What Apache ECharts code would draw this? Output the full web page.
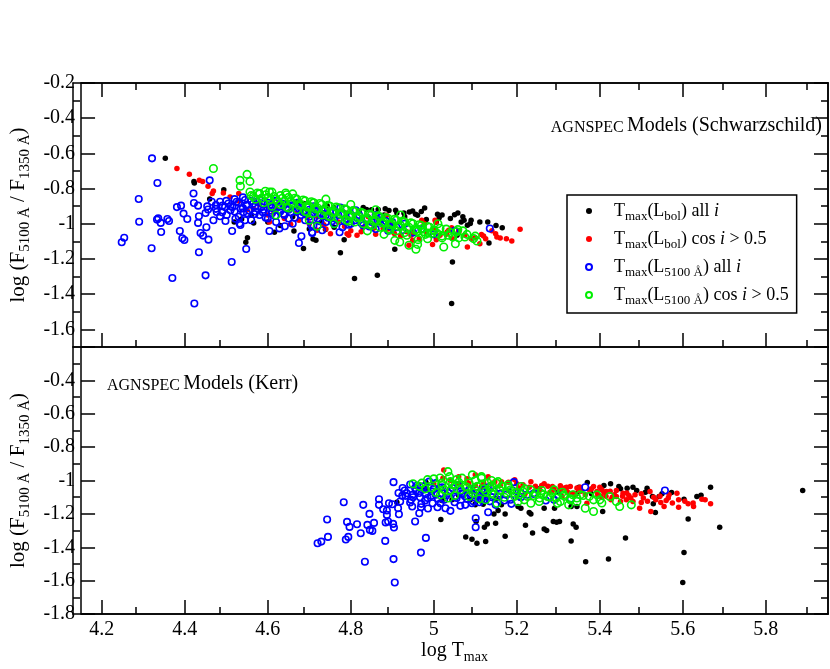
<!DOCTYPE html>
<html>
<head>
<meta charset="utf-8">
<script src="https://cdn.jsdelivr.net/npm/echarts@6/dist/echarts.min.js"></script>
<style>
  html, body { margin: 0; padding: 0; background: #fff; }
  #chart { width: 830px; height: 669px; }
</style>
</head>
<body>
<div id="chart"></div>
<script>
// tick positions (x is shared by both panels)
var xMajor = [4.2, 4.4, 4.6, 4.8, 5.0, 5.2, 5.4, 5.6, 5.8];
var xMinor = [4.3, 4.5, 4.7, 4.9, 5.1, 5.3, 5.5, 5.7, 5.9];
var yTopMajor = [-1.6, -1.4, -1.2, -1.0, -0.8, -0.6, -0.4, -0.2];
var yTopMinor = [-1.7, -1.5, -1.3, -1.1, -0.9, -0.7, -0.5, -0.3];
var yBotMajor = [-1.8, -1.6, -1.4, -1.2, -1.0, -0.8, -0.6, -0.4, -0.2];
var yBotLabels = [-1.8, -1.6, -1.4, -1.2, -1.0, -0.8, -0.6, -0.4];
var yBotMinor = [-1.7, -1.5, -1.3, -1.1, -0.9, -0.7, -0.5, -0.3];

var names = ['Tmax(Lbol) all i', 'Tmax(Lbol) cos i > 0.5', 'Tmax(L5100) all i', 'Tmax(L5100) cos i > 0.5'];

// ---- Schwarzschild panel ----
var topBlack = [
  [4.353,-0.628],[4.422,-0.759],[4.423,-0.768],[4.460,-0.859],[4.494,-0.806],[4.519,-0.990],[4.537,-0.973],
  [4.551,-1.079],[4.547,-1.105],[4.566,-0.995],[4.616,-1.048],[4.663,-1.041],[4.686,-1.141],[4.709,-1.086],
  [4.716,-1.094],[4.739,-1.033],[4.739,-0.895],[4.671,-0.876],[4.687,-0.885],[4.743,-0.897],[4.759,-0.908],
  [4.775,-1.164],[4.809,-1.311],[4.864,-1.293],[4.784,-1.090],[4.830,-0.908],[4.838,-0.919],[4.866,-0.919],
  [4.883,-0.914],[4.892,-0.925],[4.908,-0.923],[4.911,-0.939],[4.928,-0.939],[4.941,-0.933],[4.949,-0.927],
  [4.956,-0.946],[4.961,-0.952],[4.978,-0.910],[4.982,-0.976],[5.009,-0.946],[5.013,-0.965],[5.006,-0.990],
  [5.050,-0.948],[5.058,-0.939],[5.066,-0.990],[5.073,-0.980],[5.081,-1.008],[5.088,-0.999],[5.111,-0.990],
  [5.165,-1.022],[5.133,-1.109],[5.056,-1.065],[4.906,-1.145],[5.045,-1.217],[5.043,-1.453],
  [4.56,-0.95],[4.60,-0.99],[4.63,-1.01],[4.66,-0.96],[4.70,-1.03],[4.73,-0.99],[4.76,-1.02],[4.79,-0.94],
  [4.82,-0.93],[4.85,-0.92],[4.88,-0.95],[4.93,-0.96],[4.97,-0.93],[5.02,-0.95],[5.04,-0.97],[5.07,-0.96],
  [5.09,-0.98],[5.13,-0.99],[5.15,-1.01]
];
var topRed = [
  [4.381,-0.686],[4.411,-0.719],[4.435,-0.753],[4.443,-0.759],[4.456,-0.787],[4.469,-0.813],[4.466,-0.828],
  [4.493,-0.825],[4.509,-0.848],[4.530,-0.828],[4.604,-0.990],[4.655,-1.003],[4.675,-0.980],[4.719,-1.037],
  [4.751,-1.056],[4.791,-1.056],[4.795,-1.065],[4.815,-1.065],[4.842,-0.960],[4.886,-0.952],[4.898,-0.999],
  [4.878,-1.027],[4.945,-1.065],[4.949,-1.094],[4.940,-1.122],[4.971,-0.980],[4.977,-0.999],[4.982,-1.047],
  [4.997,-1.117],[5.003,-0.980],[5.005,-0.990],[5.006,-1.090],[5.032,-1.047],[5.036,-1.037],[5.081,-1.132],
  [5.090,-1.085],[5.100,-1.079],[5.111,-1.113],[5.149,-1.056],[5.152,-1.075],[5.175,-1.085],[5.188,-1.098],
  [5.208,-1.031],[5.043,-1.022],[5.061,-1.043],[5.115,-1.061],
  [4.53,-0.87],[4.55,-0.92],[4.58,-0.89],[4.60,-0.95],[4.62,-0.91],[4.64,-0.97],[4.67,-0.94],[4.70,-1.00],
  [4.72,-0.96],[4.74,-1.03],[4.77,-0.99],[4.80,-1.04],[4.83,-1.02],[4.86,-1.06],[4.89,-1.03],[4.92,-1.07],
  [4.95,-1.05],[5.00,-1.03],[5.03,-1.06],[5.06,-1.04],[5.12,-1.07],[5.14,-1.04],[5.16,-1.08],
  [4.565,-0.915],[4.615,-0.935],[4.695,-0.965],[4.735,-1.005],[4.785,-1.015],[4.825,-1.045],[4.855,-1.025],
  [4.905,-1.055],[4.935,-1.045],[4.965,-1.085],[5.015,-1.065],[5.045,-1.085],[5.075,-1.065],[5.125,-1.085]
];
var topBlue = [
  [4.321,-0.628],[4.334,-0.768],[4.289,-0.859],[4.290,-0.988],[4.248,-1.105],[4.254,-1.079],[4.320,-1.139],
  [4.370,-1.308],[4.423,-1.453],[4.450,-1.293],[4.513,-1.217],[4.434,-1.162],[4.333,-0.976],[4.336,-0.969],
  [4.342,-0.995],[4.358,-0.973],[4.362,-0.984],[4.343,-1.047],[4.388,-1.041],[4.394,-1.082],[4.399,-1.092],
  [4.381,-0.905],[4.391,-0.897],[4.397,-0.942],[4.406,-0.973],[4.421,-0.828],[4.422,-0.882],[4.432,-0.897],
  [4.434,-0.957],[4.432,-0.995],[4.438,-1.052],[4.444,-1.067],[4.452,-1.020],[4.457,-1.090],[4.460,-0.753],
  [4.450,-0.939],[4.454,-0.901],[4.456,-0.919],[4.477,-0.933],[4.469,-0.980],[4.475,-0.893],[4.485,-0.957],
  [4.498,-0.984],[4.501,-0.950],[4.491,-0.897],[4.497,-0.905],[4.510,-0.923],[4.514,-1.041],[4.522,-0.971],
  [4.532,-0.999],[4.534,-1.007],[4.541,-0.935],[4.548,-1.143],[4.545,-0.980],[4.604,-1.041],[4.628,-1.026],
  [4.641,-1.014],[4.675,-1.109],[4.681,-1.071],[4.707,-1.052],[4.731,-1.037],[4.775,-0.908],[4.812,-0.923],
  [4.707,-1.048],[4.705,-1.010],[4.773,-1.048],[5.135,-1.027],[4.860,-0.950],[4.872,-0.965],[4.885,-0.985],
  [4.50,-0.87],[4.51,-0.90],[4.52,-0.86],[4.52,-0.93],[4.53,-0.88],[4.53,-0.96],[4.54,-0.85],[4.54,-0.91],
  [4.55,-0.89],[4.55,-0.94],[4.56,-0.87],[4.56,-0.98],[4.57,-0.90],[4.57,-0.93],[4.58,-0.86],[4.58,-0.95],
  [4.59,-0.89],[4.59,-0.92],[4.60,-0.88],[4.60,-0.97],[4.61,-0.91],[4.61,-0.94],[4.62,-0.87],[4.62,-0.99],
  [4.63,-0.90],[4.63,-0.93],[4.64,-0.95],[4.64,-0.89],[4.65,-0.92],[4.65,-0.97],[4.66,-0.90],[4.66,-1.00],
  [4.67,-0.93],[4.67,-0.88],[4.68,-0.95],[4.68,-0.91],[4.69,-0.94],[4.69,-0.98],[4.70,-0.92],[4.70,-0.96],
  [4.71,-0.90],[4.71,-1.01],[4.72,-0.94],[4.72,-0.97],[4.73,-0.92],[4.74,-0.99],[4.74,-0.95],[4.75,-0.93],
  [4.76,-0.97],[4.76,-1.00],[4.77,-0.95],[4.78,-0.94],[4.78,-1.02],[4.79,-0.97],[4.80,-0.96],[4.80,-1.00],
  [4.81,-0.98],[4.82,-0.95],[4.83,-1.01],[4.84,-0.97],[4.85,-0.99],[4.86,-1.03],[4.87,-0.98],[4.88,-1.00],
  [4.89,-1.04],[4.90,-0.99],[4.91,-1.02],[4.93,-1.00],[4.95,-1.05],[4.97,-1.03],[5.00,-1.06],[5.05,-1.04],
  [4.505,-0.885],[4.515,-0.905],[4.525,-0.875],[4.535,-0.915],[4.545,-0.865],[4.548,-0.895],[4.555,-0.925],
  [4.565,-0.885],[4.568,-0.945],[4.575,-0.875],[4.585,-0.905],[4.588,-0.935],[4.595,-0.965],[4.605,-0.895],
  [4.608,-0.925],[4.615,-0.875],[4.618,-0.955],[4.625,-0.905],[4.635,-0.885],[4.638,-0.945],[4.645,-0.915],
  [4.655,-0.935],[4.658,-0.895],[4.665,-0.965],[4.675,-0.915],[4.685,-0.935],[4.695,-0.905],[4.705,-0.945],
  [4.715,-0.925],[4.725,-0.985],[4.735,-0.945],[4.745,-0.965],[4.755,-0.985],[4.765,-0.935],[4.785,-0.985],
  [4.795,-1.005],[4.815,-0.965],[4.825,-0.995],[4.845,-1.015],[4.865,-0.985],[4.895,-1.015],[4.925,-1.035],
  [4.465,-0.875],[4.475,-0.915],[4.485,-0.875],[4.490,-0.935]
];
var topGreen = [
  [4.469,-0.686],[4.550,-0.719],[4.533,-0.753],[4.557,-0.759],[4.534,-0.787],[4.557,-0.819],[4.580,-0.828],
  [4.594,-0.815],[4.604,-0.819],[4.643,-0.825],[4.711,-0.882],[4.719,-1.014],[4.961,-1.043],[4.973,-1.027],
  [4.986,-1.052],[5.001,-1.037],[5.009,-1.056],[5.020,-1.080],[5.024,-1.132],[5.052,-1.113],[5.046,-1.075],
  [5.058,-1.033],[5.096,-1.084],[5.104,-1.098],[4.961,-1.117],[4.957,-1.145],[4.962,-1.090],[4.940,-1.122],
  [4.918,-1.103],[4.906,-1.094],
  [4.56,-0.84],[4.57,-0.86],[4.58,-0.83],[4.59,-0.88],[4.60,-0.85],[4.61,-0.82],[4.61,-0.90],[4.62,-0.86],
  [4.63,-0.84],[4.63,-0.89],[4.64,-0.87],[4.65,-0.85],[4.65,-0.91],[4.66,-0.88],[4.67,-0.86],[4.67,-0.92],
  [4.68,-0.89],[4.69,-0.87],[4.69,-0.93],[4.70,-0.90],[4.71,-0.88],[4.71,-0.94],[4.72,-0.91],[4.73,-0.89],
  [4.73,-0.95],[4.74,-0.92],[4.75,-0.90],[4.75,-0.96],[4.76,-0.93],[4.77,-0.91],[4.77,-0.97],[4.78,-0.94],
  [4.79,-0.92],[4.79,-0.98],[4.80,-0.95],[4.81,-0.93],[4.81,-0.99],[4.82,-0.96],[4.83,-0.94],[4.83,-1.00],
  [4.84,-0.97],[4.85,-0.95],[4.85,-1.01],[4.86,-0.98],[4.87,-0.96],[4.87,-1.02],[4.88,-0.99],[4.89,-0.97],
  [4.89,-1.03],[4.90,-1.00],[4.91,-0.98],[4.91,-1.04],[4.92,-1.01],[4.93,-0.99],[4.93,-1.05],[4.94,-1.02],
  [4.95,-1.00],[4.96,-1.03],[4.97,-1.01],[4.98,-1.06],[4.99,-1.02],[5.00,-1.04],[5.01,-1.00],[5.02,-1.07],
  [5.03,-1.03],[5.04,-1.05],[5.06,-1.08],[5.07,-1.04],[5.08,-1.06],[5.10,-1.07],[4.62,-0.95],[4.70,-0.98],
  [4.76,-1.00],[4.84,-1.04],[4.88,-1.06],[4.66,-0.83],[4.74,-0.86],[4.80,-0.89],[4.86,-0.92],[4.92,-0.95],
  [4.565,-0.845],[4.575,-0.825],[4.585,-0.855],[4.595,-0.835],[4.605,-0.865],[4.615,-0.845],[4.625,-0.875],
  [4.635,-0.855],[4.645,-0.835],[4.655,-0.875],[4.665,-0.855],[4.675,-0.895],[4.685,-0.865],[4.695,-0.905],
  [4.705,-0.875],[4.715,-0.915],[4.725,-0.885],[4.735,-0.925],[4.745,-0.895],[4.755,-0.935],[4.765,-0.905],
  [4.775,-0.945],[4.785,-0.915],[4.795,-0.955],[4.805,-0.925],[4.815,-0.965],[4.825,-0.935],[4.835,-0.975],
  [4.845,-0.945],[4.855,-0.985],[4.865,-0.955],[4.875,-0.995],[4.885,-0.965],[4.895,-1.005],[4.905,-0.975],
  [4.915,-1.015],[4.925,-0.985],[4.935,-1.025],[4.945,-0.995],[4.955,-1.035],[4.965,-1.005],[4.975,-1.045],
  [4.985,-1.015],[4.995,-1.055],[5.015,-1.025],[5.035,-1.065],[5.055,-1.045],[5.075,-1.075],[4.645,-0.905],
  [4.695,-0.935],[4.745,-0.955],[4.795,-0.985],[4.845,-1.005],[4.895,-1.035],[4.935,-1.065],[4.985,-1.085]
];

// ---- Kerr panel ----
var botBlack = [
  [4.911,-1.130],[4.981,-1.010],[5.017,-1.234],[5.044,-1.116],[5.077,-1.338],[5.092,-1.352],[5.104,-1.376],
  [5.125,-1.366],[5.102,-1.246],[5.122,-1.280],[5.129,-1.260],[5.149,-1.256],[5.145,-1.200],[5.155,-1.180],
  [5.088,-1.116],[5.100,-1.146],[5.119,-1.142],[5.172,-1.334],[5.172,-1.200],[5.163,-1.146],[5.203,-1.156],
  [5.210,-1.166],[5.230,-1.192],[5.234,-1.200],[5.221,-1.268],[5.238,-1.314],[5.266,-1.290],[5.272,-1.300],
  [5.288,-1.246],[5.296,-1.250],[5.303,-1.246],[5.266,-1.166],[5.291,-1.166],[5.331,-1.362],[5.336,-1.260],
  [5.343,-1.280],[5.331,-1.156],[5.345,-1.156],[5.366,-1.487],[5.421,-1.471],[5.407,-1.186],[5.462,-1.344],
  [5.426,-1.020],[5.446,-1.036],[5.466,-1.046],[5.489,-1.060],[5.514,-1.046],[5.527,-1.096],[5.529,-1.140],
  [5.534,-1.192],[5.543,-1.096],[5.573,-1.072],[5.370,-1.012],[5.603,-1.112],[5.613,-1.230],[5.603,-1.432],
  [5.600,-1.611],[5.634,-1.096],[5.644,-1.088],[5.667,-1.040],[5.689,-1.280],[5.889,-1.060],[5.345,-1.076],
  [5.353,-1.056],
  [4.98,-1.05],[5.02,-1.12],[5.06,-1.09],[5.10,-1.14],[5.15,-1.11],[5.18,-1.06],[5.25,-1.05],[5.30,-1.07],
  [5.35,-1.04],[5.38,-1.08],[5.41,-1.03],[5.45,-1.05],[5.48,-1.04],[5.51,-1.07],[5.55,-1.08]
];
var botRed = [
  [5.586,-1.076],[5.590,-1.116],[5.590,-1.160],[5.613,-1.140],[5.626,-1.156],[5.646,-1.112],[5.654,-1.116],
  [5.667,-1.140],[5.560,-1.120],[5.567,-1.086],[5.547,-1.132],[5.555,-1.156],[5.523,-1.186],[5.496,-1.166],
  [5.500,-1.132],[5.480,-1.126],[5.456,-1.076],[5.464,-1.116],[5.440,-1.096],[5.416,-1.066],[5.393,-1.066],
  [5.385,-1.036],[5.353,-1.040],[5.329,-1.036],[5.305,-1.032],[5.286,-1.036],[5.266,-1.020],[5.234,-1.007],
  [5.195,-0.996],[5.163,-1.007],[5.369,-1.136],[5.403,-1.096],[5.427,-1.116],[5.450,-1.126],[5.309,-1.096],
  [5.321,-1.066],[5.337,-1.076],[5.521,-1.066],[5.024,-0.937],[5.022,-0.986],[5.060,-0.977],[5.100,-0.966],
  [5.131,-0.977],[5.147,-1.007],[5.084,-1.016],[5.115,-1.036],
  [5.00,-1.02],[5.04,-1.00],[5.08,-0.99],[5.12,-1.01],[5.16,-1.03],[5.20,-1.02],[5.23,-1.04],[5.26,-1.03],
  [5.29,-1.05],[5.32,-1.04],[5.35,-1.06],[5.38,-1.05],[5.41,-1.07],[5.44,-1.06],[5.47,-1.09],[5.50,-1.08],
  [5.53,-1.10],[5.22,-1.08],[5.28,-1.07],[5.34,-1.09],[5.40,-1.04],[5.43,-1.10],
  [5.205,-1.045],[5.215,-1.025],[5.245,-1.035],[5.255,-1.055],[5.275,-1.035],[5.285,-1.065],[5.305,-1.055],
  [5.315,-1.045],[5.325,-1.075],[5.345,-1.045],[5.355,-1.065],[5.365,-1.085],[5.375,-1.055],[5.395,-1.085],
  [5.405,-1.055],[5.415,-1.095],[5.425,-1.065],[5.435,-1.085],[5.455,-1.095],[5.465,-1.075],[5.475,-1.105],
  [5.485,-1.085],[5.505,-1.105],[5.515,-1.125],[5.535,-1.115],[5.545,-1.095],[5.565,-1.105],[5.575,-1.135],
  [5.605,-1.125],[5.625,-1.135],[5.06,-1.02],[5.10,-1.03],[5.14,-1.02],[5.18,-1.01]
];
var botBlue = [
  [4.903,-1.010],[4.783,-1.130],[4.830,-1.146],[4.868,-1.112],[4.868,-1.146],[4.845,-1.200],[4.743,-1.234],
  [4.791,-1.248],[4.797,-1.278],[4.815,-1.262],[4.840,-1.266],[4.846,-1.296],[4.852,-1.302],[4.856,-1.254],
  [4.824,-1.316],[4.720,-1.376],[4.729,-1.366],[4.745,-1.338],[4.788,-1.354],[4.794,-1.338],[4.834,-1.487],
  [4.883,-1.362],[4.903,-1.471],[4.906,-1.611],[4.884,-1.252],[4.890,-1.246],[4.902,-1.260],[4.904,-1.282],
  [4.878,-1.172],[4.887,-1.180],[4.887,-1.206],[4.892,-1.136],[4.900,-1.142],[4.914,-1.166],[4.916,-1.202],
  [4.919,-1.126],[4.924,-1.092],[4.935,-1.076],[4.943,-1.024],[4.943,-1.132],[4.948,-1.156],[4.955,-1.246],
  [4.965,-1.196],[4.969,-1.160],[4.967,-1.100],[4.979,-1.120],[4.981,-1.344],[4.969,-1.432],[4.986,-1.168],
  [4.994,-1.092],[4.997,-1.136],[5.009,-1.160],[5.016,-1.136],[5.028,-1.166],[5.040,-1.182],[5.020,-1.076],
  [5.005,-1.016],[4.989,-1.007],[4.973,-1.056],[4.957,-1.060],[4.949,-1.086],[4.932,-1.092],[5.052,-1.096],
  [5.068,-1.076],[5.076,-1.146],[5.064,-1.152],[5.092,-1.136],[5.101,-1.226],[5.101,-1.280],[5.131,-1.190],
  [5.108,-1.106],[5.123,-1.116],[5.365,-1.040],[5.557,-1.060],[5.149,-1.146],[5.187,-1.140],[5.193,-1.010],
  [5.115,-1.116],[5.118,-1.096],[5.210,-1.076],[5.242,-1.076],[5.290,-1.116],
  [4.96,-1.03],[4.98,-1.08],[5.00,-1.05],[5.01,-1.11],[5.02,-1.04],[5.03,-1.09],[5.04,-1.06],[5.05,-1.13],
  [5.06,-1.03],[5.07,-1.08],[5.08,-1.11],[5.09,-1.05],[5.10,-1.09],[5.11,-1.13],[5.12,-1.07],[5.13,-1.04],
  [5.14,-1.10],[5.16,-1.08],[5.17,-1.12],[5.19,-1.06],[5.21,-1.10],[5.24,-1.08],[5.27,-1.12],[5.30,-1.09],
  [5.33,-1.11],[4.93,-1.06],[4.95,-1.10],[4.97,-1.14],
  [4.955,-1.045],[4.965,-1.075],[4.975,-1.035],[4.985,-1.105],[4.995,-1.065],[5.005,-1.085],[5.015,-1.045],
  [5.025,-1.115],[5.035,-1.075],[5.045,-1.045],[5.055,-1.105],[5.065,-1.065],[5.075,-1.095],[5.085,-1.055],
  [5.095,-1.125],[5.105,-1.075],[5.115,-1.055],[5.125,-1.095],[5.135,-1.125],[5.145,-1.065],[5.155,-1.095],
  [5.175,-1.085],[5.185,-1.115],[5.205,-1.095],[5.225,-1.085],[4.925,-1.045],[4.915,-1.075],[4.945,-1.115]
];
var botGreen = [
  [5.034,-0.947],[5.038,-0.977],[4.971,-1.016],[5.005,-1.072],[5.016,-1.086],[5.019,-1.016],[5.040,-1.007],
  [5.068,-0.986],[5.093,-0.966],[5.115,-0.977],[5.139,-1.000],[5.151,-1.016],[5.152,-1.136],[5.139,-1.076],
  [5.100,-1.056],[5.076,-1.036],[5.052,-1.026],[5.115,-0.986],[5.131,-1.016],[5.155,-1.007],[5.159,-1.056],
  [5.179,-1.026],[5.195,-1.076],[5.203,-1.126],[5.210,-1.036],[5.234,-1.056],[5.258,-1.076],[5.274,-1.096],
  [5.290,-1.056],[5.305,-1.126],[5.313,-1.086],[5.329,-1.116],[5.345,-1.126],[5.353,-1.086],[5.365,-1.166],
  [5.385,-1.186],[5.385,-1.116],[5.393,-1.086],[5.400,-1.116],[5.424,-1.096],[5.440,-1.126],[5.448,-1.156],
  [5.476,-1.146],[5.298,-1.136],[5.325,-1.146],[5.254,-1.126],[5.234,-1.136],[5.218,-1.116],
  [4.95,-1.02],[4.98,-1.05],[5.00,-0.99],[5.02,-1.03],[5.04,-1.06],[5.06,-1.01],[5.08,-1.04],[5.10,-1.00],
  [5.12,-1.05],[5.14,-1.03],[5.16,-1.06],[5.18,-1.04],[5.20,-1.07],[5.22,-1.05],[5.24,-1.09],[5.26,-1.06],
  [5.28,-1.10],[5.31,-1.07],[5.33,-1.11],[5.36,-1.09],[5.05,-1.09],[5.11,-1.11],[5.17,-1.10],
  [4.965,-1.035],[4.985,-0.995],[4.995,-1.045],[5.015,-0.985],[5.025,-1.055],[5.045,-1.025],[5.055,-0.995],
  [5.065,-1.055],[5.085,-1.015],[5.095,-1.075],[5.105,-1.035],[5.125,-1.065],[5.135,-1.045],[5.145,-1.085],
  [5.165,-1.035],[5.175,-1.075],[5.185,-1.055],[5.195,-1.095],[5.215,-1.065],[5.225,-1.095],[5.245,-1.075],
  [5.255,-1.105],[5.265,-1.085],[5.285,-1.075],[5.295,-1.105],[5.315,-1.095],[5.335,-1.085],[5.345,-1.105],
  [5.375,-1.095],[5.405,-1.135],[5.035,-1.105],[5.085,-1.095],[5.125,-1.115]
];

var FONT = '"Liberation Serif", "Times New Roman", serif';
var INK = '#000';

// rich-text pieces: n = normal, s = subscript, i = italic
function richSet(big, small, lh) {
  return {
    n: { fontFamily: FONT, fontSize: big, lineHeight: lh, color: INK },
    s: { fontFamily: FONT, fontSize: small, lineHeight: 10, verticalAlign: 'bottom', color: INK },
    i: { fontFamily: FONT, fontSize: big, lineHeight: lh, fontStyle: 'italic', color: INK }
  };
}
var legendRich = richSet(18, 13, 24);
var axisRich = richSet(21, 15, 28);

var legendText = {};
legendText[names[0]] = '{n|T}{s|max}{n|(L}{s|bol}{n|) all }{i|i}';
legendText[names[1]] = '{n|T}{s|max}{n|(L}{s|bol}{n|) cos }{i|i}{n| > 0.5}';
legendText[names[2]] = '{n|T}{s|max}{n|(L}{s|5100 Å}{n|) all }{i|i}';
legendText[names[3]] = '{n|T}{s|max}{n|(L}{s|5100 Å}{n|) cos }{i|i}{n| > 0.5}';

var yName = '{n|log (F}{s|5100 Å}{n| / F}{s|1350 Å}{n|)}';

function fmt(v) {
  return String(Math.round(v * 10) / 10);
}

function axis(grid, pos, min, max, ticks, len, labels) {
  var a = {
    type: 'value', gridIndex: grid, position: pos, min: min, max: max,
    axisLine: { show: true, onZero: false, lineStyle: { color: INK, width: 1.5 } },
    axisTick: { show: true, inside: true, length: len, customValues: ticks,
      lineStyle: { color: INK, width: 1.5 } },
    axisLabel: { show: false },
    splitLine: { show: false },
    minorTick: { show: false }
  };
  if (labels) {
    a.axisLabel = { show: true, customValues: labels, formatter: fmt, margin: 6,
      fontFamily: FONT, fontSize: 20, color: INK };
  }
  return a;
}

var xs = [
  axis(0, 'bottom', 4.15, 5.95, xMajor, 14),
  axis(0, 'top', 4.15, 5.95, xMajor, 14),
  axis(1, 'bottom', 4.15, 5.95, xMinor, 7),
  axis(1, 'top', 4.15, 5.95, xMinor, 7),
  axis(2, 'bottom', 4.15, 5.95, xMajor, 14, xMajor),
  axis(3, 'bottom', 4.15, 5.95, xMinor, 7)
];
xs[4].name = '{n|log T}{s|max}';
xs[4].nameLocation = 'middle';
xs[4].nameGap = 24;
xs[4].nameTextStyle = { rich: richSet(20, 14, 26) };

var ys = [
  axis(0, 'left', -1.7, -0.2, yTopMajor, 14, yTopMajor),
  axis(0, 'right', -1.7, -0.2, yTopMajor, 14),
  axis(1, 'left', -1.7, -0.2, yTopMinor, 7),
  axis(1, 'right', -1.7, -0.2, yTopMinor, 7),
  axis(2, 'left', -1.8, -0.2, yBotMajor, 14, yBotLabels),
  axis(2, 'right', -1.8, -0.2, yBotMajor, 14),
  axis(3, 'left', -1.8, -0.2, yBotMinor, 7),
  axis(3, 'right', -1.8, -0.2, yBotMinor, 7)
];
[0, 4].forEach(function (k) {
  ys[k].name = yName;
  ys[k].nameLocation = 'middle';
  ys[k].nameRotate = 90;
  ys[k].nameGap = 44;
  ys[k].nameTextStyle = { rich: axisRich };
});

function dots(name, data, xi, yi, color) {
  return { type: 'scatter', name: name, data: data, xAxisIndex: xi, yAxisIndex: yi,
    symbol: 'circle', symbolSize: 5.5, itemStyle: { color: color, opacity: 1 },
    silent: true, animation: false };
}
function rings(name, data, xi, yi, color, size) {
  return { type: 'scatter', name: name, data: data, xAxisIndex: xi, yAxisIndex: yi,
    symbol: 'circle', symbolSize: size,
    itemStyle: { color: 'rgba(255,255,255,0)', borderColor: color, borderWidth: 1.6, opacity: 1 },
    silent: true, animation: false };
}

var annRich = {
  c: { fontFamily: FONT, fontSize: 16, lineHeight: 16, verticalAlign: 'bottom', fill: INK },
  m: { fontFamily: FONT, fontSize: 20, lineHeight: 20, verticalAlign: 'bottom', fill: INK }
};

var chart = echarts.init(document.getElementById('chart'), null, { renderer: 'canvas' });
chart.setOption({
  backgroundColor: '#fff',
  animation: false,
  grid: [
    { left: 73, top: 83, width: 755, height: 264 },
    { left: 73, top: 83, width: 755, height: 264 },
    { left: 73, top: 347, width: 755, height: 267 },
    { left: 73, top: 347, width: 755, height: 267 }
  ],
  xAxis: xs,
  yAxis: ys,
  legend: {
    data: names,
    orient: 'vertical',
    left: 567, top: 195,
    itemWidth: 40, itemHeight: 6, itemGap: 7,
    padding: [7, 8, 6, 18],
    borderColor: INK, borderWidth: 1.5, borderRadius: 0,
    backgroundColor: '#fff',
    selectedMode: false,
    formatter: function (n) { return legendText[n]; },
    textStyle: { rich: legendRich }
  },
  graphic: [
    { type: 'text', x: 822, y: 126, z: 10,
      style: { text: '{c|AGNSPEC} {m|Models (Schwarzschild)}', align: 'right', verticalAlign: 'middle', rich: annRich } },
    { type: 'text', x: 107, y: 384, z: 10,
      style: { text: '{c|AGNSPEC} {m|Models (Kerr)}', align: 'left', verticalAlign: 'middle', rich: annRich } }
  ],
  series: [
    dots(names[0], topBlack, 0, 0, '#000000'),
    dots(names[1], topRed, 0, 0, '#ff0000'),
    rings(names[2], topBlue, 0, 0, '#0000ff', 6.5),
    rings(names[3], topGreen, 0, 0, '#00ee00', 7.5),
    dots(names[0], botBlack, 4, 4, '#000000'),
    dots(names[1], botRed, 4, 4, '#ff0000'),
    rings(names[2], botBlue, 4, 4, '#0000ff', 6.5),
    rings(names[3], botGreen, 4, 4, '#00ee00', 7.5)
  ]
});
</script>
</body>
</html>
